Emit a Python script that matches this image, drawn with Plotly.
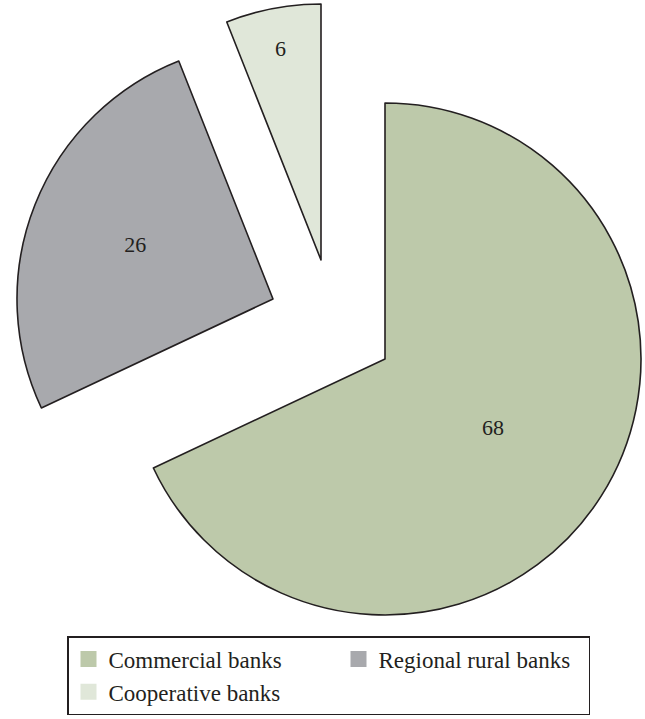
import plotly.graph_objects as go

# Data
categories = ["Commercial banks", "Regional rural banks", "Cooperative banks"]
shares = [68, 26, 6]
colors = ["#bdc9aa", "#a8a9ad", "#e0e7d9"]

# Exploded-slice placement (pixel centre of each slice's vertex) and radius
W, H = 645, 719
R = 256
centers = [(385, 359), (273, 299), (321, 260)]
legend_widths = [225, 205, 225]
line_color = "#231f20"

fig = go.Figure()

start = 0.0
total = float(sum(shares))
for name, v, c, (cx, cy) in zip(categories, shares, colors, centers):
    rot = start * 360.0 / total
    x0 = (cx - R) / W
    x1 = (cx + R) / W
    yc = H - cy
    y0 = (yc - R) / H
    y1 = (yc + R) / H
    fig.add_trace(go.Pie(
        values=[v, total - v],
        labels=[name, name + " rest"],
        sort=False,
        direction="clockwise",
        rotation=rot,
        marker=dict(colors=[c, "rgba(0,0,0,0)"],
                    line=dict(color=[line_color, "rgba(0,0,0,0)"], width=[1.6, 0])),
        texttemplate=["%{value}", ""],
        textposition="inside",
        insidetextorientation="horizontal",
        textfont=dict(family="Liberation Serif", size=22, color=line_color),
        hoverinfo="skip",
        showlegend=False,
        domain=dict(x=[max(0, x0), min(1, x1)], y=[max(0, y0), min(1, y1)]),
    ))
    start += v

# Legend entries
for name, c, lw in zip(categories, colors, legend_widths):
    fig.add_trace(go.Scatter(
        x=[None], y=[None], mode="markers", name=name,
        marker=dict(symbol="square", size=20, color=c),
        showlegend=True,
        legendwidth=lw,
    ))

fig.update_layout(
    width=W, height=H,
    margin=dict(l=0, r=0, t=0, b=0),
    paper_bgcolor="white",
    plot_bgcolor="white",
    xaxis=dict(visible=False),
    yaxis=dict(visible=False),
    legend=dict(
        orientation="h",
        x=67 / W, xanchor="left",
        y=1 - 636 / H, yanchor="top",
        bordercolor=line_color,
        borderwidth=1.5,
        bgcolor="white",
        font=dict(family="Liberation Serif", size=23, color=line_color),
        traceorder="normal",
    ),
)

fig.write_html("out.html", config={"displayModeBar": False},
               post_script="document.body.style.margin='0px';")
